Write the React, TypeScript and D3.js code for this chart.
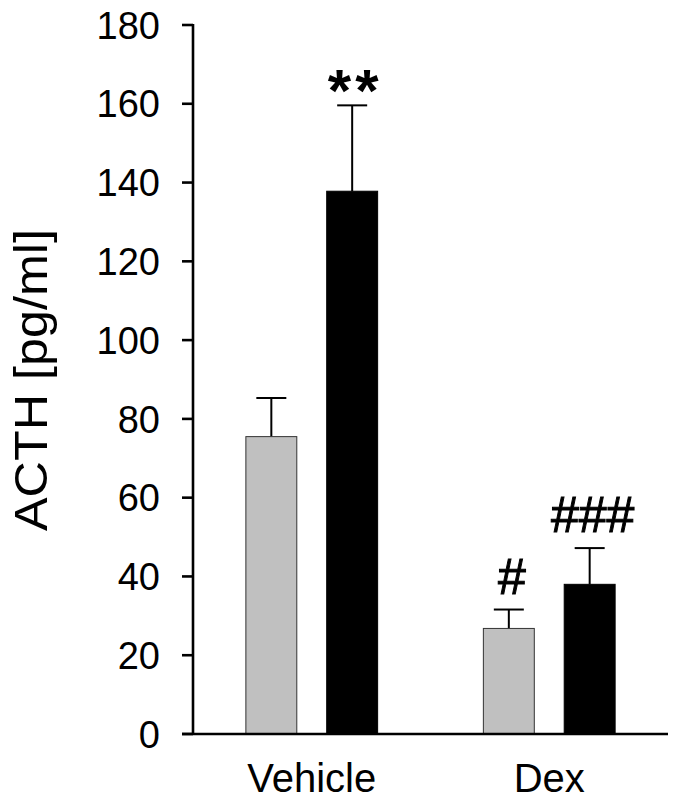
import * as d3 from 'd3';

// data
const groups = ['Vehicle', 'Dex'];
const series = ['control', 'treated'];
const controlMeans = [75.5, 26.8];
const controlSem = [9.8, 4.8];
const treatedMeans = [137.8, 38.0];
const treatedSem = [21.8, 9.2];
const controlMarks = ['', '#'];
const treatedMarks = ['**', '###'];
const yTicks = [0, 20, 40, 60, 80, 100, 120, 140, 160, 180];

const FONT = '"Liberation Sans", Arial, sans-serif';

const App = () => {
  const width = 677;
  const height = 801;
  const left = 193;
  const right = 668;
  const top = 25;
  const bottom = 734;

  const y = d3.scaleLinear().domain([0, 180]).range([bottom, top]);
  const x0 = d3.scaleBand().domain(groups).range([left, right]).padding(0);
  const x1 = d3
    .scaleBand()
    .domain(series)
    .range([0, x0.bandwidth()])
    .paddingInner(0.37)
    .paddingOuter(0.654);

  const bars = groups.flatMap((g, i) => [
    { group: g, key: 'control', mean: controlMeans[i], sem: controlSem[i], mark: controlMarks[i] },
    { group: g, key: 'treated', mean: treatedMeans[i], sem: treatedSem[i], mark: treatedMarks[i] },
  ]);

  return (
    <svg
      width={width}
      height={height}
      style={{ position: 'absolute', left: 0, top: 0, background: '#fff' }}
      fontFamily={FONT}
    >
      {/* bars + error bars */}
      {bars.map((d) => {
        const bx = (x0(d.group) ?? 0) + (x1(d.key) ?? 0);
        const bw = x1.bandwidth();
        const cx = bx + bw / 2;
        const yTop = y(d.mean);
        const yErr = y(d.mean + d.sem);
        const isStar = d.mark.startsWith('*');
        return (
          <g key={d.group + d.key}>
            <line x1={cx} x2={cx} y1={yTop} y2={yErr} stroke="#000" strokeWidth={2} />
            <line x1={cx - 15} x2={cx + 15} y1={yErr} y2={yErr} stroke="#000" strokeWidth={2} />
            <rect
              x={bx}
              y={yTop}
              width={bw}
              height={bottom - yTop}
              fill={d.key === 'control' ? '#c0c0c0' : '#000'}
              stroke={d.key === 'control' ? '#333' : '#000'}
              strokeWidth={1}
            />
            {d.mark && (
              <text
                x={cx + 3}
                y={isStar ? yErr + 6 : yErr - 16}
                textAnchor="middle"
                fontSize={isStar ? 60 : 50}
                fontWeight={isStar ? 'bold' : 'normal'}
                letterSpacing={isStar ? 4 : 0}
                stroke="#000"
                strokeWidth={isStar ? 0 : 1}
              >
                {d.mark}
              </text>
            )}
          </g>
        );
      })}

      {/* y axis */}
      <line x1={left} x2={left} y1={top - 1} y2={bottom} stroke="#000" strokeWidth={2.6} />
      {yTicks.map((t) => (
        <g key={t}>
          <line x1={left - 11} x2={left} y1={y(t)} y2={y(t)} stroke="#000" strokeWidth={2.6} />
          <text x={160} y={y(t)} dy="0.36em" textAnchor="end" fontSize={38}>
            {t}
          </text>
        </g>
      ))}

      {/* x axis */}
      <line x1={left - 11} x2={right} y1={bottom} y2={bottom} stroke="#000" strokeWidth={2.6} />
      {groups.map((g) => (
        <text key={g} x={(x0(g) ?? 0) + x0.bandwidth() / 2} y={792} textAnchor="middle" fontSize={40}>
          {g}
        </text>
      ))}

      {/* axis title */}
      <text
        transform="translate(47,380) rotate(-90)"
        textAnchor="middle"
        fontSize={46}
        textLength={302}
        lengthAdjust="spacingAndGlyphs"
      >
        ACTH [pg/ml]
      </text>
    </svg>
  );
};

export default App;
